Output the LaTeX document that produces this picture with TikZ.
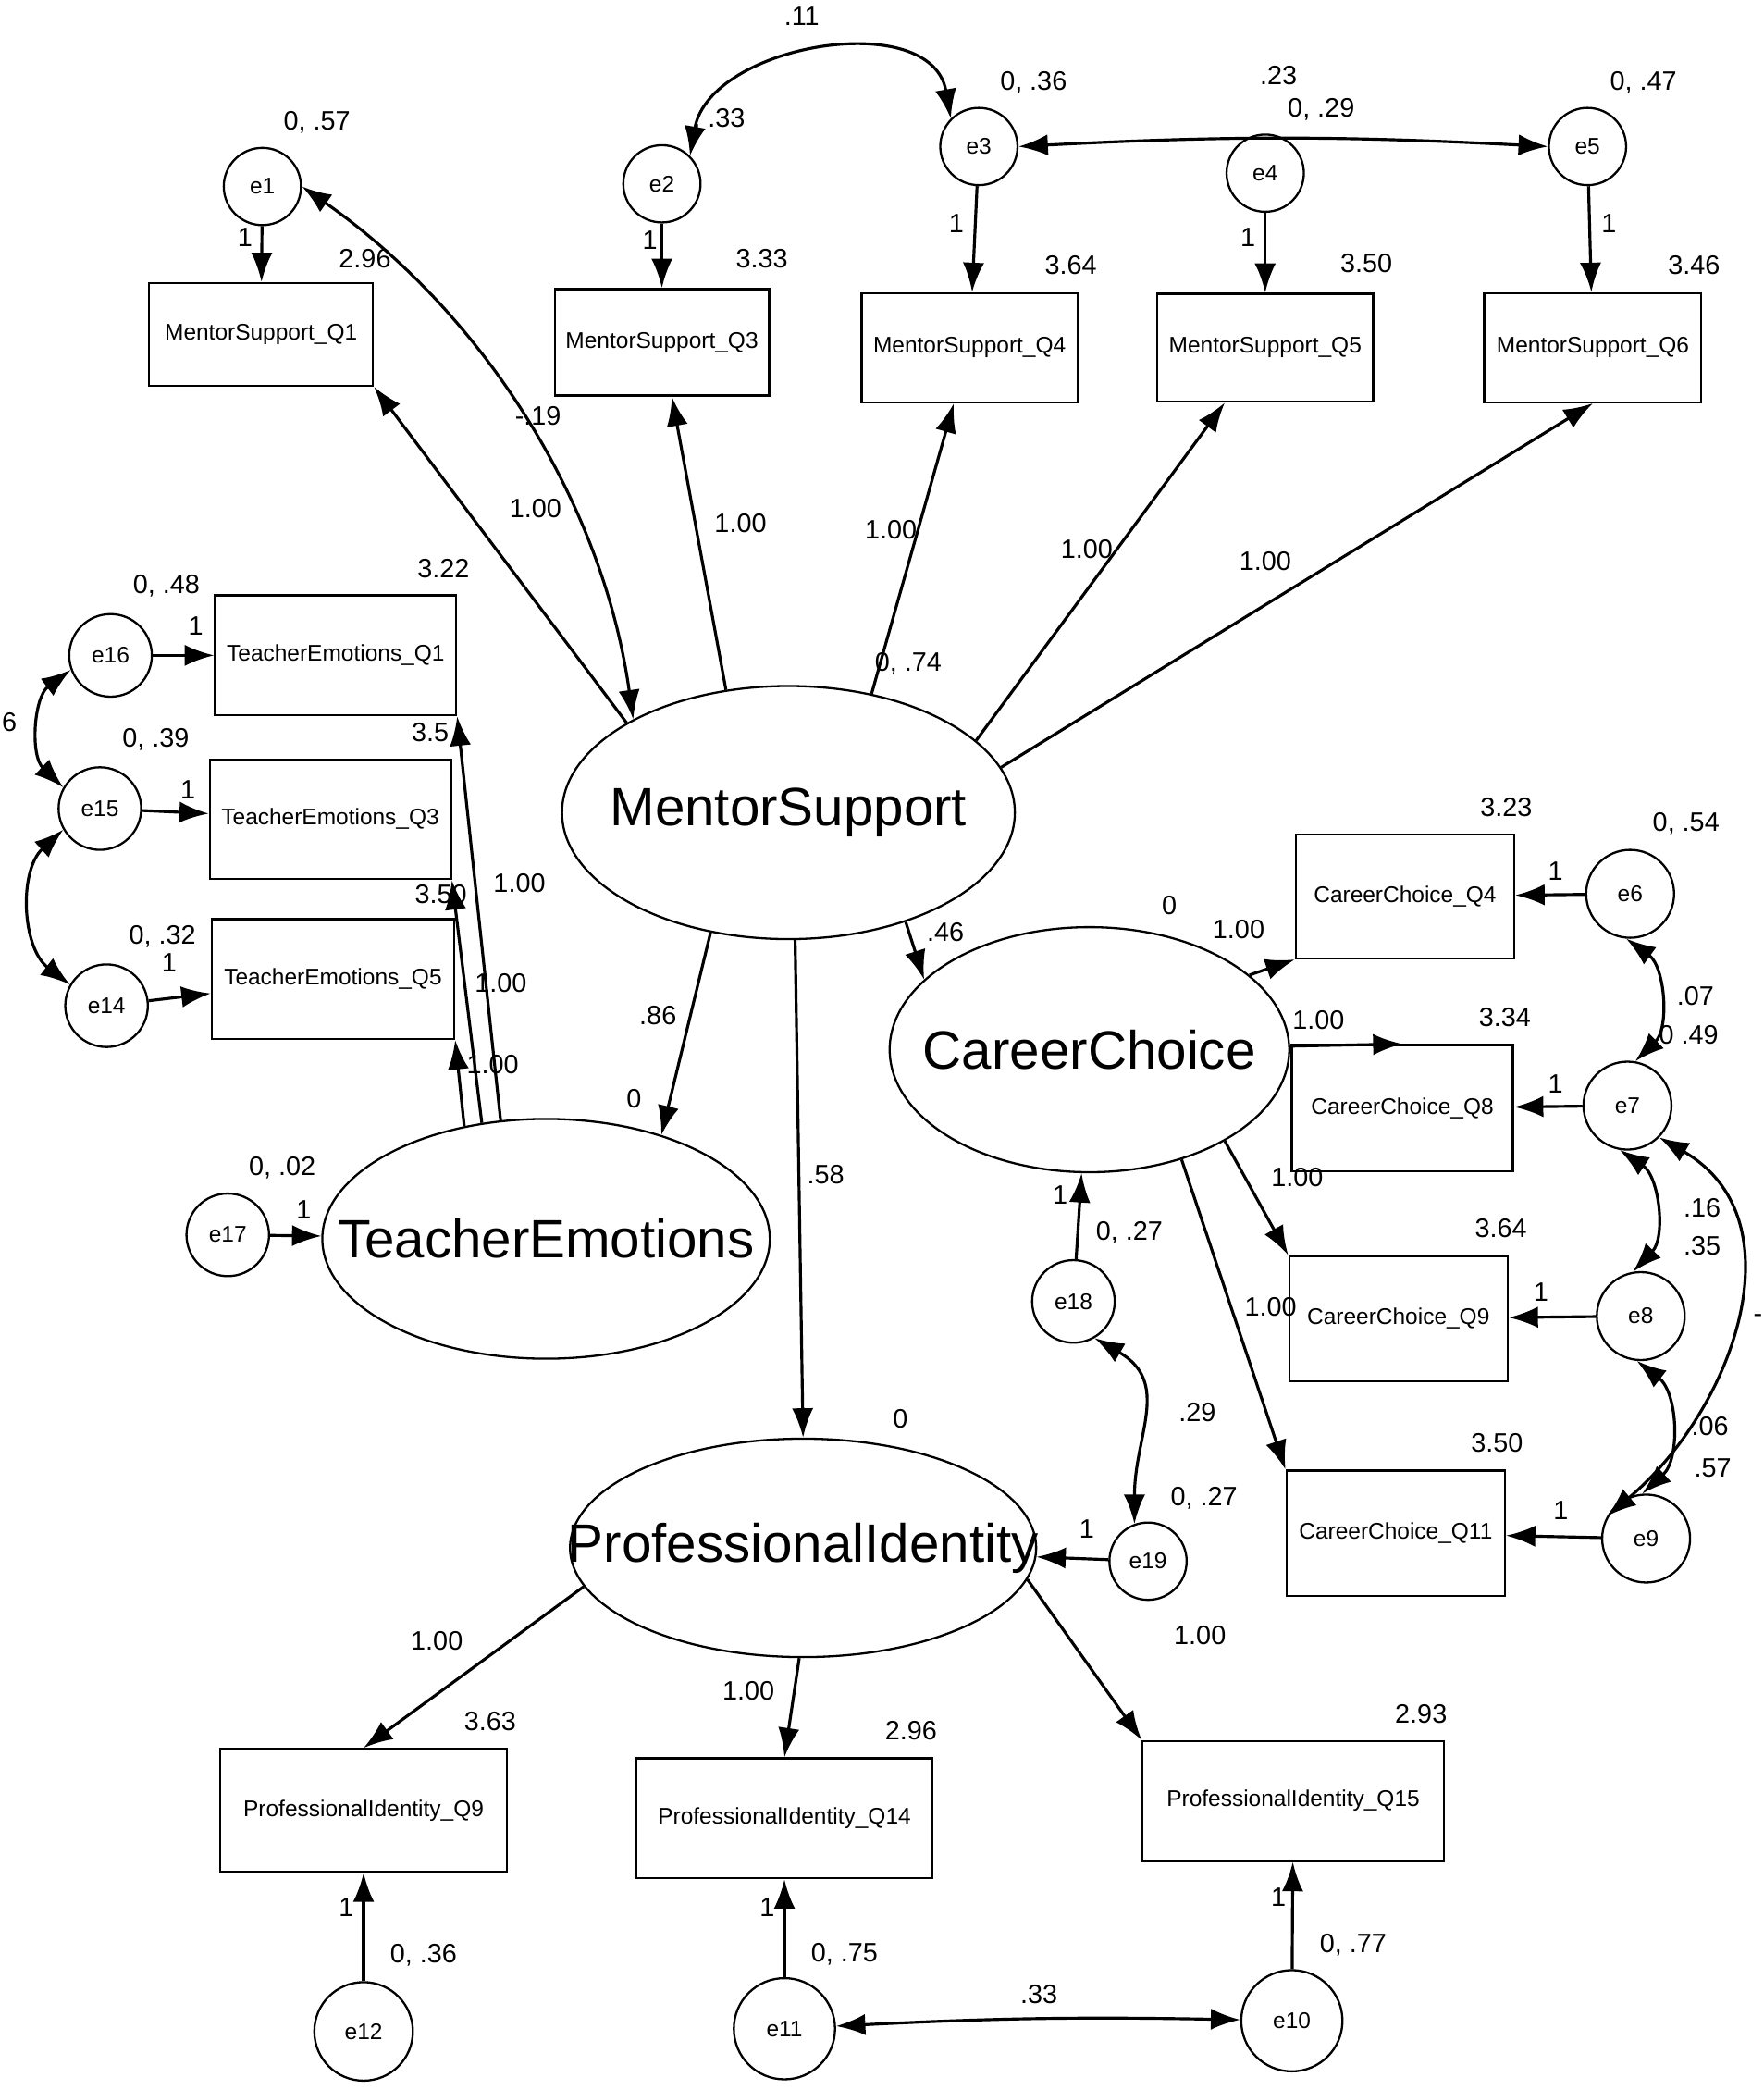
\documentclass[tikz,border=0pt]{standalone}
\usepackage{fontspec}
\setmainfont{Liberation Sans}
\usetikzlibrary{arrows.meta,shapes}
\begin{document}
\begin{tikzpicture}[x=1pt,y=-1pt,
  obs/.style={draw,line width=1.6pt,minimum width=164pt,minimum height=80pt,inner sep=0pt,font=\fontsize{17}{17}\selectfont},
  lat/.style={draw,ellipse,line width=1.6pt,inner sep=0pt,font=\fontsize{40.5}{40.5}\selectfont},
  err/.style={draw,circle,line width=1.6pt,minimum size=58pt,inner sep=0pt,font=\fontsize{17}{17}\selectfont},
  path/.style={-{Latex[length=22pt,width=16pt]},line width=2.2pt},
  cov/.style={{Latex[length=22pt,width=16pt]}-{Latex[length=22pt,width=16pt]},line width=2.2pt},
  lab/.style={font=\fontsize{20}{20}\selectfont,inner sep=0pt}]
\useasboundingbox (0,0) rectangle (1324,1569);

% latent variables
\node[lat,minimum width=340pt,minimum height=190pt] (MS) at (592,610) {\makebox[0pt]{MentorSupport}};
\node[lat,minimum width=336pt,minimum height=180pt] (TE) at (410,930) {\makebox[0pt]{TeacherEmotions}};
\node[lat,minimum width=300pt,minimum height=184pt] (CC) at (818,788) {\makebox[0pt]{CareerChoice}};
\node[lat,minimum width=350pt,minimum height=164pt] (PI) at (603,1162) {\makebox[0pt]{ProfessionalIdentity}};

% indicators
\node[obs,minimum width=168pt,minimum height=77pt] (MS1) at (196,251) {MentorSupport\_Q1};
\node[obs,minimum width=161pt] (MS3) at (497,257) {MentorSupport\_Q3};
\node[obs,minimum width=162pt,minimum height=82pt] (MS4) at (728,261) {MentorSupport\_Q4};
\node[obs,minimum width=162pt,minimum height=81pt] (MS5) at (950,261) {MentorSupport\_Q5};
\node[obs,minimum width=163pt,minimum height=82pt] (MS6) at (1196,261) {MentorSupport\_Q6};
\node[obs,minimum width=181pt,minimum height=90pt] (TE1) at (252,492) {TeacherEmotions\_Q1};
\node[obs,minimum width=181pt,minimum height=90pt] (TE3) at (248,615) {TeacherEmotions\_Q3};
\node[obs,minimum width=182pt,minimum height=90pt] (TE5) at (250,735) {TeacherEmotions\_Q5};
\node[obs,minimum height=93pt] (CC4) at (1055,673) {CareerChoice\_Q4};
\node[obs,minimum width=166pt,minimum height=95pt] (CC8) at (1053,832) {CareerChoice\_Q8};
\node[obs,minimum height=94pt] (CC9) at (1050,990) {CareerChoice\_Q9};
\node[obs,minimum height=94pt] (CC11) at (1048,1151) {CareerChoice\_Q11};
\node[obs,minimum width=215pt,minimum height=92pt] (PI9) at (273,1359) {ProfessionalIdentity\_Q9};
\node[obs,minimum width=222pt,minimum height=90pt] (PI14) at (589,1365) {ProfessionalIdentity\_Q14};
\node[obs,minimum width=226pt,minimum height=90pt] (PI15) at (971,1352) {ProfessionalIdentity\_Q15};

% error terms
\node[err] (e1) at (197,140) {e1};
\node[err] (e2) at (497,138) {e2};
\node[err] (e3) at (735,110) {e3};
\node[err] (e4) at (950,130) {e4};
\node[err] (e5) at (1192,110) {e5};
\node[err,minimum size=62pt] (e16) at (83,492) {e16};
\node[err,minimum size=62pt] (e15) at (75,607) {e15};
\node[err,minimum size=62pt] (e14) at (80,755) {e14};
\node[err,minimum size=62pt] (e17) at (171,927) {e17};
\node[err,minimum size=66pt] (e6) at (1224,671) {e6};
\node[err,minimum size=66pt] (e7) at (1222,830) {e7};
\node[err,minimum size=66pt] (e8) at (1232,988) {e8};
\node[err,minimum size=66pt] (e9) at (1236,1155) {e9};
\node[err,minimum size=62pt] (e18) at (806,977) {e18};
\node[err] (e19) at (862,1172) {e19};
\node[err,minimum size=74pt] (e12) at (273,1525) {e12};
\node[err,minimum size=76pt] (e11) at (589,1523) {e11};
\node[err,minimum size=76pt] (e10) at (970,1517) {e10};

% regression paths
\draw[path] (MS.151) -- (MS1.south east);
\draw[path] (MS.117) -- (MS3);
\draw[path] (MS.55) -- (MS4);
\draw[path] (MS.21) -- (MS5);
\draw[path] (MS.12) -- (MS6.south);
\draw[path] (MS.-123) -- (TE.42);
\draw[path] (MS.-87) -- (PI.90);
\draw[path] (MS.-43) -- (CC.157);
\draw[path] (TE.111) -- (TE1.south east);
\draw[path] (TE.119) -- (TE3.south east);
\draw[path] (TE.126) -- (TE5.south east);
\draw[path] (CC.25) -- (CC4.south west);
\draw[path] (CC.1) -- (CC8.north);
\draw[path] (CC.-34) -- (CC9.north west);
\draw[path] (CC.-50) -- (CC11.north west);
\draw[path] (PI.-170) -- (PI9.north);
\draw[path] (PI.-92) -- (PI14.north);
\draw[path] (PI.-8) -- (PI15.north west);

% error paths
\foreach \e/\o in {e1/MS1,e2/MS3,e3/MS4,e4/MS5,e5/MS6,e16/TE1,e15/TE3,e14/TE5,e6/CC4,e7/CC8,e8/CC9,e9/CC11,e12/PI9,e11/PI14,e10/PI15}
  \draw[path] (\e) -- (\o);
\draw[path] (e17) -- (TE);
\draw[path] (e18) -- (CC);
\draw[path] (e19) -- (PI);

% covariances
\draw[cov] (e2.north east) to[out=80,in=100,looseness=1.1] (e3.north west);
\draw[cov] (e3.east) to[bend left=3] (e5.west);
\draw[cov] (e1.east) to[out=-35,in=98,looseness=0.9] (MS.149);
\draw[cov] (e16.200) to[bend right=50] (e15.150);
\draw[cov] (e15.210) to[bend right=50] (e14.150);
\draw[cov] (e6.-95) to[bend left=50] (e7.80);
\draw[cov] (e7.-100) to[bend left=50] (e8.100);
\draw[cov] (e8.-95) to[bend left=50] (e9.95);
\draw[cov] (e7.-45) to[out=-30,in=40,looseness=1.1] (e9.150);
\draw[cov] (e18.-60) to[out=-30,in=90,looseness=1.2] (e19.110);
\draw[cov] (e11) to[bend left=2] (e10);

% labels
\foreach \t/\x/\y in {{0, .57}/238/92, 2.96/274/194, 1/184/178, .11/602/12, {, .33}/540/90,
  {0, .36}/776/62, .23/960/57, {0, .29}/992/82, {0, .47}/1234/62, 1/488/180, 3.33/572/194,
  1/718/168, 3.64/804/199, 1/937/178, 3.50/1026/198, 1/1208/168, 3.46/1272/199,
  -.19/404/312, 1.00/402/382, 1.00/556/393, 1.00/669/398, 1.00/816/412, 1.00/950/421,
  {0, .74}/682/498, 3.22/333/427, {0, .48}/125/440, 1/147/470, 6/7/542, {0, .39}/117/555,
  1/141/593, 3.5/323/550, 1.00/390/663, 3.50/331/671, {0, .32}/122/703, 1/127/723,
  1.00/376/738, 1.00/370/799, .86/494/762, 0/476/825, {0, .02}/212/877, 1/228/908,
  .58/620/882, 0/878/680, 1.00/930/698, .46/710/700, 3.23/1131/606, {0, .54}/1266/618,
  1/1168/654, .07/1273/748, {0 .49}/1268/777, 1.00/990/766, 3.34/1130/764, 1/1168/814,
  1.00/974/884, .16/1278/907, .35/1278/935, 3.64/1127/922, 1/1157/970, 1.00/954/981,
  -/1320/990, 1/796/897, {0, .27}/848/925, .29/899/1060, .06/1284/1071, .57/1286/1102,
  3.50/1124/1083, 1/1172/1134, 0/676/1065, {0, .27}/904/1125, 1/816/1148, 1.00/328/1232,
  3.63/368/1292, 1.00/562/1269, 2.96/684/1299, 1.00/901/1228, 2.93/1067/1287, 1/260/1432,
  {0, .36}/318/1468, 1/576/1432, {0, .75}/634/1467, .33/780/1497, 1/960/1424, {0, .77}/1016/1460}
  \node[lab] at (\x,\y) {\t};
\end{tikzpicture}
\end{document}
